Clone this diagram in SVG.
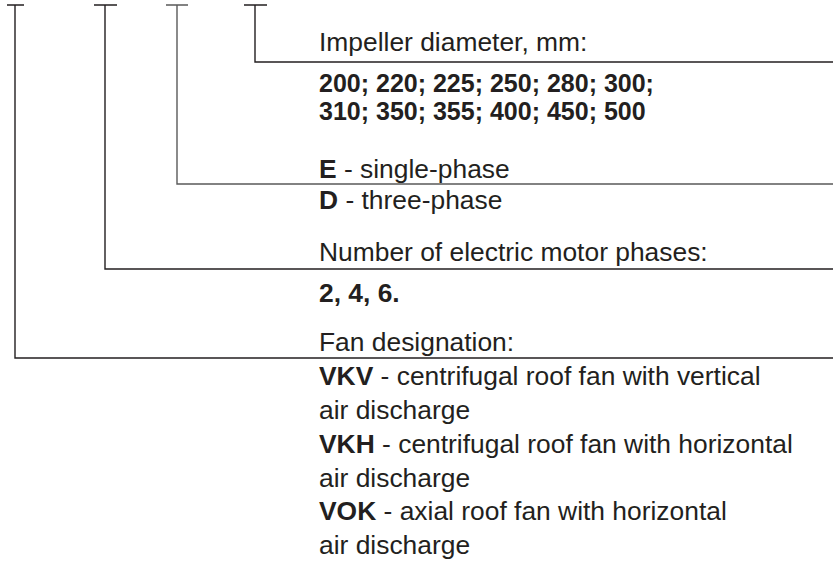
<svg xmlns="http://www.w3.org/2000/svg" width="839" height="561" viewBox="0 0 839 561">
<style>
text{font-family:"Liberation Sans",Arial,sans-serif;font-size:26.4px;fill:#231f20}
.b{font-weight:bold}
.num{font-size:25px}
.ln{stroke:#231f20;stroke-width:1.4;fill:none}
.ln3{stroke:#5a5a5a;stroke-width:1.4;fill:none}
</style>
<rect width="839" height="561" fill="#fff"/>
<g id="connectors">
<path class="ln" d="M7 5H24M15 5V358H833"/>
<path class="ln" d="M94 5H117M105 5V269H833"/>
<path class="ln3" d="M166 5H188M177 5V184H833"/>
<path class="ln" d="M244 5H267M255 5V62H833"/>
</g>
<g id="impeller">
<text x="319" y="51">Impeller diameter, mm:</text>
<text class="b num" x="319" y="92">200; 220; 225; 250; 280; 300;</text>
<text class="b num" x="319" y="120">310; 350; 355; 400; 450; 500</text>
</g>
<g id="phase-type">
<text x="319" y="178"><tspan class="b">E</tspan> - single-phase</text>
<text x="319" y="209"><tspan class="b">D</tspan> - three-phase</text>
</g>
<g id="phases">
<text x="319" y="261">Number of electric motor phases:</text>
<text class="b" x="319" y="302">2, 4, 6.</text>
</g>
<g id="fan">
<text x="319" y="351">Fan designation:</text>
<text x="319" y="385"><tspan class="b">VKV</tspan> - centrifugal roof fan with vertical</text>
<text x="319" y="419">air discharge</text>
<text x="319" y="453"><tspan class="b">VKH</tspan> - centrifugal roof fan with horizontal</text>
<text x="319" y="486.5">air discharge</text>
<text x="319" y="520"><tspan class="b">VOK</tspan> - axial roof fan with horizontal</text>
<text x="319" y="553.5">air discharge</text>
</g>
</svg>
